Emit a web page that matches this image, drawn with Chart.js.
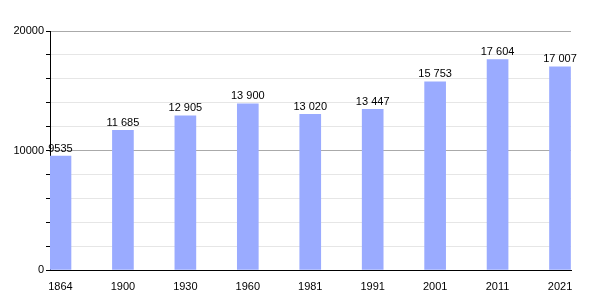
<!DOCTYPE html>
<html>
<head>
<meta charset="utf-8">
<script src="https://cdn.jsdelivr.net/npm/chart.js@4"></script>
<style>
  html, body { margin: 0; padding: 0; background: #fff; }
  #wrap { width: 600px; height: 300px; }
</style>
</head>
<body>
<div id="wrap"><canvas id="chart"></canvas></div>
<script>
const years = ['1864', '1900', '1930', '1960', '1981', '1991', '2001', '2011', '2021'];
const population = [9535, 11685, 12905, 13900, 13020, 13447, 15753, 17604, 17007];
const valueLabels = ['9535', '11 685', '12 905', '13 900', '13 020', '13 447', '15 753', '17 604', '17 007'];
const yLabels = [0, 10000, 20000];

// labels above each bar
const barLabels = {
  id: 'barLabels',
  afterDatasetsDraw(chart) {
    const { ctx } = chart;
    const meta = chart.getDatasetMeta(0);
    ctx.save();
    ctx.font = '11px "Liberation Sans", Arial, sans-serif';
    ctx.fillStyle = '#000';
    ctx.textAlign = 'center';
    ctx.textBaseline = 'bottom';
    meta.data.forEach((bar, i) => {
      ctx.fillText(valueLabels[i], bar.x, bar.y - 2);
    });
    ctx.restore();
  }
};

new Chart(document.getElementById('chart').getContext('2d'), {
  type: 'bar',
  data: {
    datasets: [{
      data: population.map((v, i) => ({ x: i, y: v })),
      backgroundColor: '#9aabff',
      barThickness: 21,
    }],
  },
  options: {
    responsive: true,
    maintainAspectRatio: false,
    animation: false,
    layout: { padding: { top: 31, right: 29 } },
    plugins: {
      legend: { display: false },
      tooltip: { enabled: false },
    },
    scales: {
      x: {
        type: 'linear',
        offset: false,
        min: -0.168,
        max: 8.176,
        afterBuildTicks: (axis) => {
          axis.ticks = years.map((_, i) => ({ value: i }));
        },
        afterFit: (axis) => { axis.height = 30; },
        grid: { display: false, offset: false },
        border: { color: '#000', width: 1 },
        ticks: {
          callback: (v) => years[v],
          color: '#000',
          font: { family: '"Liberation Sans", Arial, sans-serif', size: 11 },
          padding: 2,
          maxRotation: 0,
          autoSkip: false,
        },
      },
      y: {
        min: 0,
        max: 20000,
        afterFit: (axis) => { axis.width = 50; },
        border: { color: '#000', width: 1 },
        grid: {
          color: (c) => (c.tick && c.tick.value % 10000 === 0 ? '#aaaaaa' : '#e6e6e6'),
          tickColor: '#000',
          tickLength: 4,
        },
        ticks: {
          stepSize: 2000,
          callback: (v) => (yLabels.includes(v) ? String(v) : ''),
          color: '#000',
          font: { family: '"Liberation Sans", Arial, sans-serif', size: 11 },
          padding: 2,
        },
      },
    },
  },
  plugins: [barLabels],
});
</script>
</body>
</html>
